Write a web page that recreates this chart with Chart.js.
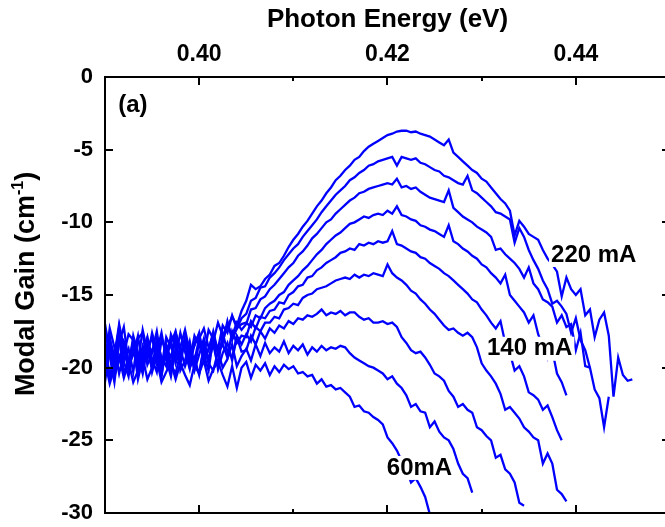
<!DOCTYPE html>
<html>
<head>
<meta charset="utf-8">
<script src="https://cdn.jsdelivr.net/npm/chart.js@4.4.1/dist/chart.umd.min.js"></script>
<style>
  html, body { margin: 0; padding: 0; background: #fff; overflow: hidden; }
  #wrap { width: 665px; height: 527px; overflow: hidden; }
</style>
</head>
<body>
<div id="wrap"><canvas id="gain" width="672" height="527"></canvas></div>
<script>
// photon energy grid (eV)
const energy = [
  0.3900,0.3905,0.3910,0.3915,0.3920,0.3925,0.3930,0.3935,0.3940,0.3945,
  0.3950,0.3955,0.3960,0.3965,0.3970,0.3975,0.3980,0.3985,0.3990,0.3995,
  0.4000,0.4005,0.4010,0.4015,0.4020,0.4025,0.4030,0.4035,0.4040,0.4045,
  0.4050,0.4055,0.4060,0.4065,0.4070,0.4075,0.4080,0.4085,0.4090,0.4095,
  0.4100,0.4105,0.4110,0.4115,0.4120,0.4125,0.4130,0.4135,0.4140,0.4145,
  0.4150,0.4155,0.4160,0.4165,0.4170,0.4175,0.4180,0.4185,0.4190,0.4195,
  0.4200,0.4205,0.4210,0.4215,0.4220,0.4225,0.4230,0.4235,0.4240,0.4245,
  0.4250,0.4255,0.4260,0.4265,0.4270,0.4275,0.4280,0.4285,0.4290,0.4295,
  0.4300,0.4305,0.4310,0.4315,0.4320,0.4325,0.4330,0.4335,0.4340,0.4345,
  0.4350,0.4355,0.4360,0.4365,0.4370,0.4375,0.4380,0.4385,0.4390,0.4395,
  0.4400,0.4405,0.4410,0.4415,0.4420,0.4425,0.4430,0.4435,0.4440,0.4445,
  0.4450,0.4455,0.4460
];

// modal gain (cm-1) per injection current
const gain220 = [
  -17.0,-18.9,-20.3,-17.6,-18.2,-19.9,-19.1,-17.8,-20.0,-18.4,
  -18.9,-17.5,-19.6,-18.8,-18.1,-19.7,-18.6,-17.4,-18.9,-19.5,
  -18.0,-17.3,-18.6,-18.2,-16.9,-17.8,-17.2,-16.5,-17.1,-16.1,
  -15.4,-14.3,-14.6,-14.4,-13.9,-13.6,-13.0,-12.8,-12.3,-11.7,
  -11.2,-10.8,-10.3,-9.9,-9.4,-8.9,-8.5,-8.0,-7.6,-7.1,
  -6.8,-6.4,-6.1,-5.7,-5.5,-5.1,-4.8,-4.6,-4.4,-4.2,
  -4.0,-3.9,-3.75,-3.7,-3.7,-3.8,-3.75,-3.9,-4.0,-4.1,
  -4.3,-4.5,-4.7,-4.3,-5.2,-5.5,-5.8,-6.1,-6.4,-6.6,
  -7.0,-7.2,-7.6,-8.0,-8.4,-8.7,-9.2,-10.9,-9.9,-10.3,
  -10.8,-11.0,-11.2,-11.9,-12.5,-12.9,-13.4,-15.1,-13.8,-14.6,
  -15.0,-14.6,-16.4,-16.0,-17.9,-16.7,-16.2,-17.8,-22.0,-19.3,
  -20.5,-20.9,-20.8
];
const gain200 = [
  -19.8,-17.3,-18.6,-20.4,-19.0,-17.7,-18.1,-20.2,-18.5,-19.3,
  -17.6,-18.8,-20.1,-19.2,-18.3,-17.5,-19.0,-18.4,-19.6,-17.8,
  -18.5,-19.2,-17.4,-18.0,-18.7,-17.1,-17.6,-16.4,-17.3,-16.6,
  -16.3,-15.4,-15.2,-14.5,-14.4,-13.8,-13.5,-13.1,-12.6,-12.2,
  -11.8,-11.5,-11.0,-10.6,-10.2,-9.8,-9.3,-8.9,-8.5,-8.1,
  -7.8,-7.5,-7.1,-6.9,-6.6,-6.4,-6.1,-6.0,-5.8,-5.7,
  -5.6,-5.5,-6.1,-5.5,-5.6,-5.7,-5.6,-5.9,-6.0,-6.2,
  -6.4,-6.5,-6.8,-6.9,-7.1,-7.3,-7.4,-6.8,-7.8,-8.0,
  -8.3,-8.6,-8.9,-9.3,-9.4,-9.6,-9.8,-11.4,-10.4,-11.0,
  -11.9,-12.6,-13.2,-14.0,-14.6,-15.6,-15.4,-15.8,-16.3,-17.6,
  -16.6,-18.1,-18.8,-20.0,-21.5,-22.1,-24.1,-22.0
];
const gain180 = [
  -18.3,-20.8,-19.4,-17.2,-19.5,-18.7,-20.3,-18.0,-17.6,-19.8,
  -19.0,-18.2,-20.0,-17.9,-18.6,-19.3,-17.6,-18.9,-20.1,-18.3,
  -17.7,-19.5,-18.8,-17.5,-18.9,-18.2,-17.0,-17.8,-16.9,-17.4,
  -17.0,-16.0,-15.9,-15.3,-15.1,-14.6,-14.3,-13.9,-13.5,-13.1,
  -12.8,-12.3,-12.0,-11.6,-11.1,-10.8,-10.4,-10.0,-9.8,-9.4,
  -9.1,-8.8,-8.5,-8.3,-8.0,-7.9,-7.7,-7.6,-7.5,-7.4,
  -7.3,-7.4,-7.0,-7.6,-7.5,-7.7,-7.6,-7.9,-8.1,-8.3,
  -8.4,-8.5,-8.6,-7.8,-9.0,-9.3,-9.6,-9.8,-10.0,-10.3,
  -10.5,-10.7,-11.0,-11.9,-11.8,-12.2,-12.5,-12.8,-13.2,-13.8,
  -13.1,-14.2,-14.6,-15.3,-15.5,-15.8,-16.9,-16.4,-17.2,-17.0,
  -18.8,-17.6,-19.9,-20.0
];
const gain160 = [
  -20.6,-18.0,-19.2,-17.0,-18.6,-20.2,-18.4,-19.6,-17.4,-18.9,
  -20.0,-18.1,-19.3,-19.9,-17.7,-18.5,-19.8,-18.0,-19.2,-18.5,
  -17.6,-19.4,-18.7,-17.7,-19.0,-18.3,-16.8,-18.1,-17.3,-17.0,
  -16.9,-17.2,-16.4,-16.6,-15.9,-15.6,-15.4,-15.0,-14.8,-14.3,
  -14.0,-13.7,-13.3,-13.0,-12.6,-12.2,-11.9,-11.5,-11.2,-10.9,
  -10.7,-10.4,-10.1,-10.0,-9.8,-9.6,-9.7,-9.5,-9.4,-9.5,
  -9.2,-9.4,-8.9,-9.5,-9.6,-9.8,-9.9,-10.2,-10.3,-10.5,
  -10.6,-10.8,-11.0,-10.2,-11.3,-11.5,-11.8,-12.0,-12.3,-12.5,
  -12.9,-13.1,-13.5,-13.8,-14.2,-13.6,-15.0,-15.4,-15.8,-16.2,
  -16.9,-16.4,-17.7,-18.6,-19.4,-18.8,-20.4,-21.0,-21.9
];
const gain140 = [
  -17.4,-19.2,-21.0,-18.3,-17.2,-19.7,-18.5,-20.4,-19.0,-17.9,
  -19.4,-20.3,-18.1,-18.8,-20.2,-17.6,-18.7,-19.9,-18.9,-20.1,
  -18.2,-19.1,-20.2,-17.9,-19.0,-18.4,-19.3,-17.5,-18.3,-17.8,
  -17.9,-16.8,-17.3,-16.5,-16.6,-16.1,-16.0,-15.5,-15.6,-15.0,
  -14.8,-14.4,-14.3,-13.8,-13.7,-13.3,-13.1,-12.8,-12.6,-12.4,
  -12.1,-12.0,-11.8,-11.9,-11.5,-11.6,-11.4,-11.5,-11.3,-11.4,
  -11.3,-10.6,-11.5,-11.6,-11.8,-12.0,-12.1,-12.4,-12.5,-12.8,
  -13.0,-13.2,-13.5,-13.7,-14.0,-14.3,-14.6,-14.9,-15.3,-15.5,
  -16.0,-16.4,-16.9,-17.3,-16.8,-18.3,-19.0,-20.2,-19.9,-20.6,
  -21.7,-21.9,-22.2,-22.9,-22.6,-23.4,-24.3,-25.0
];
const gain120 = [
  -19.2,-17.8,-20.6,-19.5,-18.4,-20.1,-17.8,-19.0,-20.4,-18.3,
  -19.8,-18.9,-17.6,-19.4,-20.6,-18.7,-19.5,-17.9,-18.6,-20.2,
  -19.1,-18.0,-19.6,-18.4,-19.9,-17.6,-18.9,-19.3,-17.8,-18.4,
  -17.7,-18.2,-17.2,-17.5,-16.9,-16.9,-16.5,-16.6,-16.0,-15.9,
  -15.6,-15.7,-15.2,-15.0,-14.9,-14.6,-14.5,-14.4,-14.2,-14.0,
  -13.9,-13.8,-13.9,-13.6,-13.8,-13.6,-13.7,-13.5,-13.6,-13.7,
  -12.9,-13.5,-13.8,-14.0,-14.3,-14.7,-14.9,-15.3,-15.6,-16.0,
  -16.3,-16.7,-17.1,-17.4,-17.3,-17.6,-17.8,-17.6,-17.9,-18.6,
  -19.7,-20.2,-20.6,-21.1,-21.8,-22.9,-22.7,-23.1,-23.5,-24.1,
  -24.4,-24.8,-25.0,-26.6,-25.9,-26.6,-28.4,-28.7,-29.2
];
const gain100 = [
  -18.1,-20.7,-19.0,-17.5,-19.6,-20.6,-18.4,-19.2,-20.3,-18.7,
  -17.9,-19.8,-20.5,-18.6,-19.3,-17.9,-20.2,-19.5,-18.2,-19.8,
  -20.4,-18.5,-19.4,-18.0,-20.1,-19.0,-18.3,-19.5,-17.9,-18.9,
  -18.8,-17.8,-18.4,-17.5,-18.0,-17.3,-17.6,-17.1,-17.3,-16.8,
  -17.0,-16.6,-16.7,-16.4,-16.5,-16.3,-16.0,-16.4,-16.2,-16.3,
  -16.1,-16.4,-16.2,-16.2,-16.5,-16.7,-16.6,-16.9,-16.9,-16.8,
  -17.0,-16.9,-17.2,-17.9,-18.3,-18.8,-19.0,-18.9,-19.3,-19.8,
  -20.4,-20.6,-20.9,-21.6,-22.0,-22.7,-22.5,-22.9,-23.1,-24.1,
  -24.3,-24.7,-25.0,-26.2,-26.0,-27.0,-27.3,-27.9,-29.3,-29.5
];
const gain80 = [
  -21.0,-18.6,-19.6,-17.8,-20.4,-19.5,-18.2,-20.8,-19.4,-18.0,
  -20.3,-19.1,-20.6,-18.4,-19.8,-20.4,-19.0,-18.1,-20.0,-19.3,
  -20.5,-18.6,-19.7,-20.2,-18.9,-20.0,-19.4,-18.4,-19.9,-19.2,
  -18.7,-19.5,-18.4,-19.2,-18.3,-19.0,-18.6,-18.9,-18.2,-19.0,
  -18.5,-18.8,-18.4,-19.1,-18.6,-18.9,-18.5,-18.8,-18.6,-18.7,
  -18.5,-18.6,-19.0,-19.3,-19.5,-19.7,-19.9,-20.0,-20.2,-20.4,
  -20.8,-20.6,-21.1,-21.4,-21.9,-22.7,-22.5,-23.0,-23.1,-24.1,
  -23.7,-24.4,-24.8,-25.0,-25.6,-26.6,-27.3,-27.6,-28.6
];
const gain60 = [
  -19.5,-21.1,-20.0,-19.2,-20.7,-19.6,-21.0,-20.2,-19.3,-20.8,
  -20.0,-19.4,-21.0,-20.3,-19.6,-20.8,-19.7,-20.5,-21.2,-19.8,
  -20.4,-19.5,-20.9,-20.1,-19.6,-20.5,-21.3,-19.9,-21.4,-20.0,
  -19.6,-20.7,-19.8,-20.2,-19.7,-20.5,-19.9,-20.3,-19.8,-20.1,
  -19.9,-20.4,-20.3,-20.6,-20.5,-21.1,-20.8,-21.3,-21.2,-21.5,
  -21.4,-21.7,-22.0,-22.7,-22.6,-23.0,-23.1,-23.4,-23.6,-23.9,
  -24.8,-25.2,-25.7,-26.4,-27.0,-27.9,-27.6,-28.2,-28.9,-30.1
];

const currents = ['220 mA', '200 mA', '180 mA', '160 mA', '140 mA', '120 mA', '100 mA', '80 mA', '60 mA'];
const series = [gain220, gain200, gain180, gain160, gain140, gain120, gain100, gain80, gain60];

const xTickLabels = ['0.40', '0.42', '0.44'];
const xMajor = [0.40, 0.42, 0.44];
const xMinor = [0.41, 0.43];
const yMajor = [-5, -10, -15, -20, -25];

// in-plot labels, in data coordinates
const notes = [
  { text: '220 mA', x: 0.4419, y: -12.25 },
  { text: '140 mA', x: 0.4351, y: -18.7 },
  { text: '60mA',   x: 0.4234, y: -26.9 }
];
const panel = { text: '(a)', x: 0.3914, y: -1.93 };

const FONT = '"Liberation Sans", Arial, Helvetica, sans-serif';

const frame = {
  id: 'frame',
  afterDatasetsDraw(chart) {
    const { ctx, chartArea: a, scales: { x, y } } = chart;
    ctx.save();
    ctx.font = 'bold 24px ' + FONT;
    ctx.textBaseline = 'middle';
    ctx.textAlign = 'center';
    notes.forEach(n => {
      const w = ctx.measureText(n.text).width;
      const px = x.getPixelForValue(n.x), py = y.getPixelForValue(n.y);
      ctx.fillStyle = '#fff';
      ctx.fillRect(px - w / 2 - 2, py - 12, w + 4, 24);
      ctx.fillStyle = '#000';
      ctx.fillText(n.text, px, py);
    });
    ctx.textAlign = 'left';
    ctx.fillText(panel.text, x.getPixelForValue(panel.x), y.getPixelForValue(panel.y));

    // box and inward ticks
    ctx.strokeStyle = '#000';
    ctx.lineWidth = 2;
    ctx.strokeRect(a.left, a.top, a.right - a.left, a.bottom - a.top);
    ctx.beginPath();
    const xt = (v, len) => {
      const px = Math.round(x.getPixelForValue(v));
      ctx.moveTo(px, a.top); ctx.lineTo(px, a.top + len);
      ctx.moveTo(px, a.bottom); ctx.lineTo(px, a.bottom - len);
    };
    xMajor.forEach(v => xt(v, 8));
    xMinor.forEach(v => xt(v, 4));
    yMajor.forEach(v => {
      const py = Math.round(y.getPixelForValue(v));
      ctx.moveTo(a.left, py); ctx.lineTo(a.left + 8, py);
      ctx.moveTo(a.right, py); ctx.lineTo(a.right - 8, py);
    });
    ctx.stroke();

    // y-axis title with superscript
    const big = 'bold 27px ' + FONT, small = 'bold 16px ' + FONT;
    const parts = [['Modal Gain (cm', big, 0], ['-1', small, -11], [')', big, 0]];
    let total = 0;
    parts.forEach(p => { ctx.font = p[1]; total += ctx.measureText(p[0]).width; });
    ctx.translate(34, 284);
    ctx.rotate(-Math.PI / 2);
    ctx.fillStyle = '#000';
    ctx.textBaseline = 'alphabetic';
    ctx.textAlign = 'left';
    let pos = -total / 2;
    parts.forEach(p => {
      ctx.font = p[1];
      ctx.fillText(p[0], pos, p[2]);
      pos += ctx.measureText(p[0]).width;
    });
    ctx.restore();
  }
};

new Chart(document.getElementById('gain'), {
  type: 'line',
  data: {
    datasets: series.map((vals, k) => ({
      label: currents[k],
      data: vals.map((v, i) => ({ x: energy[i], y: v })),
      borderColor: '#0000ff',
      borderWidth: 2.3,
      pointRadius: 0,
      tension: 0,
      fill: false
    }))
  },
  options: {
    responsive: false,
    animation: false,
    layout: { padding: { top: 0, left: 0, right: 2, bottom: 14 } },
    plugins: { legend: { display: false }, tooltip: { enabled: false } },
    scales: {
      x: {
        type: 'linear',
        position: 'top',
        min: 0.39,
        max: 0.45,
        afterFit: s => { s.height = 77; s.paddingLeft = 0; s.paddingRight = 0; },
        grid: { display: false, drawTicks: false },
        border: { display: false },
        ticks: {
          stepSize: 0.01,
          autoSkip: false,
          maxRotation: 0,
          padding: 9,
          color: '#000',
          font: { family: FONT, size: 23, weight: 'bold' },
          callback: v => xTickLabels.includes(v.toFixed(2)) ? v.toFixed(2) : ''
        },
        title: {
          display: true,
          text: 'Photon Energy (eV)',
          color: '#000',
          font: { family: FONT, size: 26, weight: 'bold' },
          padding: { top: 4, bottom: 0 }
        }
      },
      y: {
        min: -30,
        max: 0,
        afterFit: s => { s.width = 105; s.paddingTop = 0; s.paddingBottom = 0; },
        grid: { display: false, drawTicks: false },
        border: { display: false },
        ticks: {
          stepSize: 5,
          padding: 12,
          color: '#000',
          font: { family: FONT, size: 22, weight: 'bold' },
          callback: v => String(v)
        }
      }
    }
  },
  plugins: [frame]
});
</script>
</body>
</html>
